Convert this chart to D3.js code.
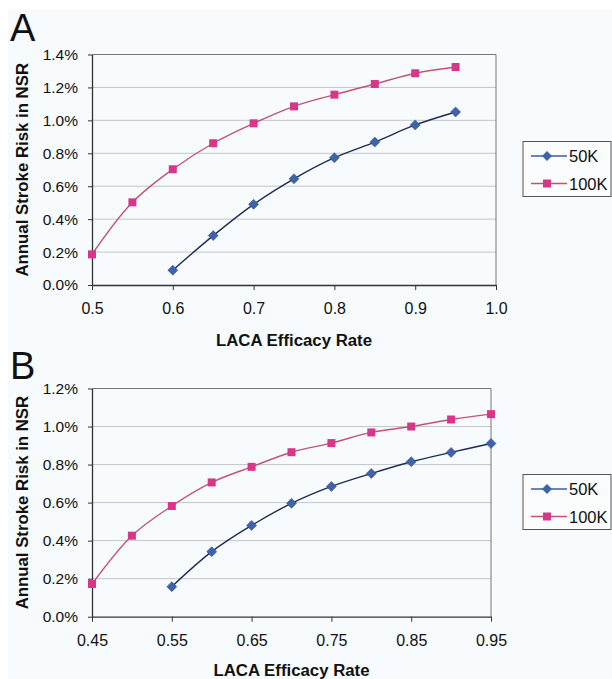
<html>
<head>
<title>LACA efficacy</title>
<script src="https://d3js.org/d3.v7.min.js"></script>
<style>
  body { margin: 0; background: #fff; }
  text { font-family: "Liberation Sans", Arial, sans-serif; fill: #111; }
</style>
</head>
<body>
<script>
// panel A data
var xA50 = [0.6, 0.65, 0.7, 0.75, 0.8, 0.85, 0.9, 0.95];
var yA50 = [0.09, 0.30, 0.49, 0.645, 0.773, 0.868, 0.972, 1.051];
var xA100 = [0.5, 0.55, 0.6, 0.65, 0.7, 0.75, 0.8, 0.85, 0.9, 0.95];
var yA100 = [0.186, 0.502, 0.703, 0.861, 0.982, 1.085, 1.156, 1.221, 1.286, 1.324];
var xTicksA = [0.5, 0.6, 0.7, 0.8, 0.9, 1.0];
var yTicksA = [0, 0.2, 0.4, 0.6, 0.8, 1.0, 1.2, 1.4];

// panel B data
var xB50 = [0.55, 0.6, 0.65, 0.7, 0.75, 0.8, 0.85, 0.9, 0.95];
var yB50 = [0.158, 0.342, 0.48, 0.596, 0.685, 0.753, 0.815, 0.864, 0.911];
var xB100 = [0.45, 0.5, 0.55, 0.6, 0.65, 0.7, 0.75, 0.8, 0.85, 0.9, 0.95];
var yB100 = [0.172, 0.426, 0.582, 0.706, 0.788, 0.865, 0.913, 0.969, 1.0, 1.037, 1.065];
var xTicksB = [0.45, 0.55, 0.65, 0.75, 0.85, 0.95];
var yTicksB = [0, 0.2, 0.4, 0.6, 0.8, 1.0, 1.2];

var seriesNames = ["50K", "100K"];

var svg = d3.select("body").append("svg")
    .attr("width", 612).attr("height", 679);

// pale paper background
svg.append("rect").attr("x", 8).attr("y", 10).attr("width", 604).attr("height", 669)
    .attr("fill", "#f7fbfd");

function panel(opt) {
    var g = svg.append("g");
    var x = d3.scaleLinear().domain(opt.xDomain).range([opt.left, opt.right]);
    var y = d3.scaleLinear().domain(opt.yDomain).range([opt.bottom, opt.top]);

    // gridlines
    g.selectAll("line.grid").data(opt.yTicks.slice(1)).enter().append("line")
        .attr("x1", opt.left).attr("x2", opt.right)
        .attr("y1", function(d) { return y(d); }).attr("y2", function(d) { return y(d); })
        .attr("stroke", "#c4c6c8").attr("stroke-width", 1);
    // right + top border
    g.append("line").attr("x1", opt.right).attr("x2", opt.right)
        .attr("y1", opt.top).attr("y2", opt.bottom)
        .attr("stroke", "#777").attr("stroke-width", 1);
    g.append("line").attr("x1", opt.left).attr("x2", opt.right)
        .attr("y1", opt.top).attr("y2", opt.top)
        .attr("stroke", "#777").attr("stroke-width", 1);

    var yAxis = d3.axisLeft(y).tickValues(opt.yTicks)
        .tickFormat(function(d) { return d.toFixed(1) + "%"; })
        .tickSize(4).tickSizeOuter(0).tickPadding(10);
    var ya = g.append("g").attr("transform", "translate(" + opt.left + ",0)").call(yAxis);

    var xAxis = d3.axisBottom(x).tickValues(opt.xTicks)
        .tickFormat(opt.xFormat)
        .tickSize(5).tickSizeOuter(0).tickPadding(13);
    var xa = g.append("g").attr("transform", "translate(0," + opt.bottom + ")").call(xAxis);

    ya.selectAll("text").style("font-size", "15.5px");
    xa.selectAll("text").style("font-size", "16px");
    [ya, xa].forEach(function(a) {
        a.select(".domain").attr("stroke", "#333").attr("stroke-width", 1.3);
        a.selectAll(".tick line").attr("stroke", "#333");
        a.selectAll("text").attr("fill", "#111")
            .style("font-family", "'Liberation Sans', Arial, sans-serif");
    });

    // axis titles
    g.append("text").attr("transform", "translate(27.5," + (opt.top + opt.bottom) / 2 + ")rotate(-90)")
        .attr("text-anchor", "middle").style("font-size", "16.8px").style("font-weight", "bold")
        .attr("fill", "#1a1a1a")
        .text("Annual Stroke Risk in NSR");
    g.append("text").attr("x", (opt.left + opt.right) / 2).attr("y", opt.xTitleY)
        .attr("text-anchor", "middle").style("font-size", "16.8px").style("font-weight", "bold")
        .attr("fill", "#1a1a1a")
        .text("LACA Efficacy Rate");

    // panel letter
    g.append("text").attr("x", 10).attr("y", opt.letterY)
        .style("font-size", "38px").text(opt.letter);

    var line = d3.line()
        .x(function(d) { return x(d[0]); })
        .y(function(d) { return y(d[1]); })
        .curve(d3.curveCatmullRom.alpha(0.5));

    var d100 = d3.zip(opt.x100, opt.y100);
    var d50 = d3.zip(opt.x50, opt.y50);

    g.append("path").datum(d100).attr("d", line)
        .attr("fill", "none").attr("stroke", "#c25472").attr("stroke-width", 1.4);
    g.append("path").datum(d50).attr("d", line)
        .attr("fill", "none").attr("stroke", "#1e2b55").attr("stroke-width", 1.4);

    g.selectAll("rect.m100").data(d100).enter().append("rect")
        .attr("x", function(d) { return x(d[0]) - 4; })
        .attr("y", function(d) { return y(d[1]) - 4; })
        .attr("width", 8).attr("height", 8)
        .attr("fill", "#d8368a");
    g.selectAll("path.m50").data(d50).enter().append("path")
        .attr("d", d3.symbol(d3.symbolDiamond2, 64))
        .attr("transform", function(d) { return "translate(" + x(d[0]) + "," + y(d[1]) + ")"; })
        .attr("fill", "#3f62a8").attr("stroke", "#2a4a90").attr("stroke-width", 0.5);

    // legend
    var lg = g.append("g").attr("transform", "translate(523," + opt.legendY + ")");
    lg.append("rect").attr("width", 88).attr("height", 55)
        .attr("fill", "#fafcfd").attr("stroke", "#555").attr("stroke-width", 1);
    var colors = [["#3a5ca8", "#3f62a8"], ["#c25472", "#d8368a"]];
    seriesNames.forEach(function(name, i) {
        var ry = 14.5 + i * 27.5;
        lg.append("line").attr("x1", 8).attr("x2", 44).attr("y1", ry).attr("y2", ry)
            .attr("stroke", colors[i][0]).attr("stroke-width", 1.4);
        if (i === 0) {
            lg.append("path").attr("d", d3.symbol(d3.symbolDiamond2, 64))
                .attr("transform", "translate(24," + ry + ")").attr("fill", colors[i][1]);
        } else {
            lg.append("rect").attr("x", 20).attr("y", ry - 4).attr("width", 8).attr("height", 8)
                .attr("fill", colors[i][1]);
        }
        lg.append("text").attr("x", 46).attr("y", ry + 6)
            .style("font-size", "16.5px").text(name);
    });
}

panel({
    left: 92, right: 496, top: 54.5, bottom: 285,
    xDomain: [0.5, 1.0], yDomain: [0, 1.4],
    xTicks: xTicksA, yTicks: yTicksA, xFormat: d3.format(".1f"),
    x50: xA50, y50: yA50, x100: xA100, y100: yA100,
    xTitleY: 346, letter: "A", letterY: 41, legendY: 141.5
});

panel({
    left: 92, right: 491, top: 388.5, bottom: 616.7,
    xDomain: [0.45, 0.95], yDomain: [0, 1.2],
    xTicks: xTicksB, yTicks: yTicksB, xFormat: d3.format(".2f"),
    x50: xB50, y50: yB50, x100: xB100, y100: yB100,
    xTitleY: 676, letter: "B", letterY: 379, legendY: 474.5
});
</script>
</body>
</html>
